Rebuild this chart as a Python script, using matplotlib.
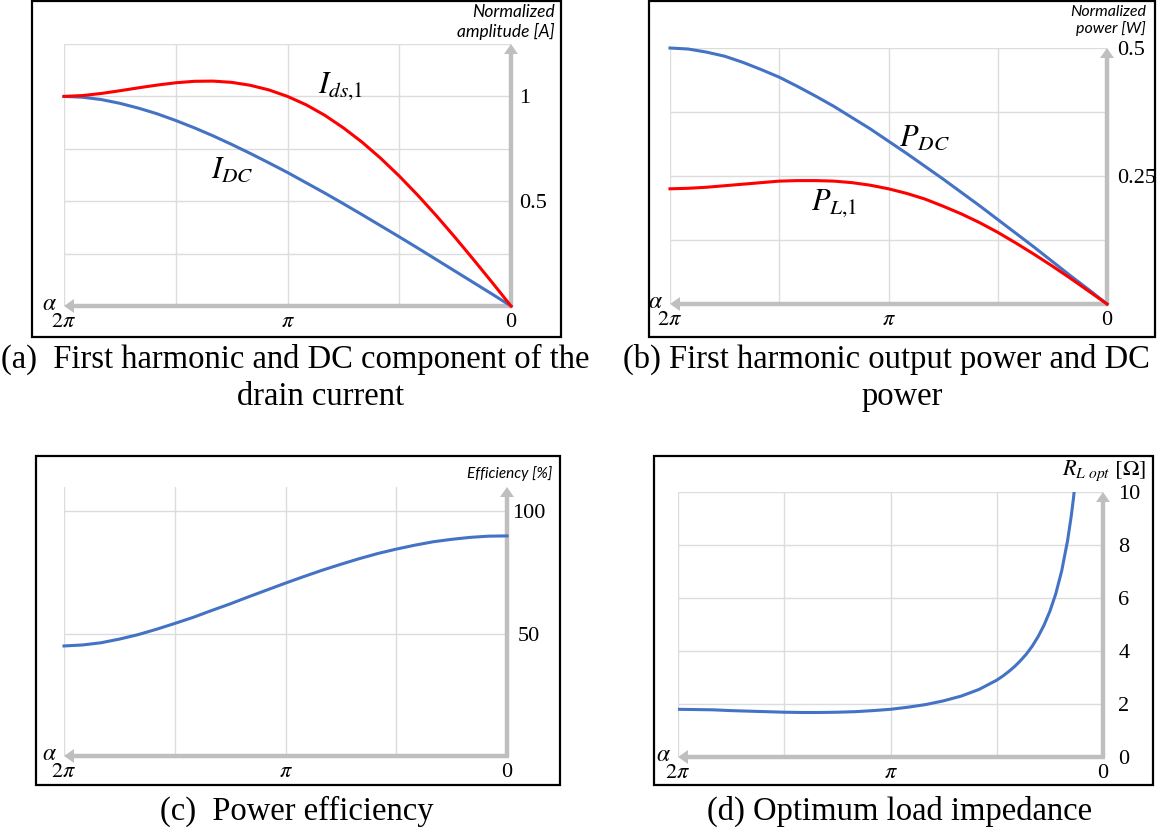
import numpy as np
import matplotlib
matplotlib.use("Agg")
import matplotlib.pyplot as plt
from matplotlib.patches import Rectangle

plt.rcParams["mathtext.fontset"] = "stix"

# conduction angle (deg), read from 2*pi down to 0
alpha_deg = [360, 345, 330, 315, 300, 285, 270, 255, 240, 225, 210, 195, 180,
             165, 150, 135, 120, 105, 90, 75, 60, 45, 30, 15, 0]

# (a) normalized amplitude [A]
i_ds1 = [1.000, 1.004, 1.014, 1.027, 1.041, 1.054, 1.065, 1.072, 1.073, 1.067, 1.053, 1.031, 1.000,
         0.960, 0.910, 0.850, 0.782, 0.705, 0.620, 0.528, 0.430, 0.327, 0.220, 0.111, 0.0]
i_dc = [1.000, 0.996, 0.985, 0.967, 0.944, 0.917, 0.885, 0.850, 0.812, 0.771, 0.728, 0.683, 0.637,
        0.588, 0.539, 0.488, 0.436, 0.383, 0.330, 0.276, 0.221, 0.166, 0.111, 0.056, 0.0]

# (b) normalized power [W]
p_dc = [0.500, 0.498, 0.492, 0.484, 0.472, 0.458, 0.443, 0.425, 0.406, 0.386, 0.364, 0.342, 0.318,
        0.294, 0.269, 0.244, 0.218, 0.192, 0.165, 0.138, 0.111, 0.083, 0.055, 0.028, 0.0]
p_l1 = [0.225, 0.226, 0.228, 0.231, 0.234, 0.237, 0.240, 0.241, 0.241, 0.240, 0.237, 0.232, 0.225,
        0.216, 0.205, 0.191, 0.176, 0.159, 0.140, 0.119, 0.097, 0.074, 0.050, 0.025, 0.0]

# (c) efficiency [%]
eff = [45.0, 45.4, 46.3, 47.8, 49.6, 51.8, 54.2, 56.7, 59.5, 62.2, 65.1, 67.9, 70.7,
       73.4, 76.0, 78.4, 80.7, 82.8, 84.6, 86.2, 87.6, 88.6, 89.4, 89.9, 90.0]

# (d) optimum load impedance [ohm]
alpha_r_deg = [360, 345, 330, 315, 300, 285, 270, 255, 240, 225, 210, 195, 180,
               165, 150, 135, 120, 105, 90, 85, 80, 75, 70, 65, 60, 55, 50, 45,
               40, 35, 30, 27, 25, 24]
r_opt = [1.80, 1.79, 1.78, 1.75, 1.73, 1.71, 1.69, 1.68, 1.68, 1.69, 1.71, 1.75, 1.80,
         1.88, 1.98, 2.12, 2.30, 2.55, 2.90, 3.05, 3.22, 3.41, 3.63, 3.88, 4.18, 4.54, 4.97, 5.50,
         6.16, 7.02, 8.17, 9.06, 9.77, 10.18]

x_labels = [r"$2\pi$", r"$\pi$", "0"]

BLUE = "#4472c4"
RED = "#ff0000"
GRID = "#dcdcdc"
AXIS = "#bfbfbf"
W, H = 1169, 832

fig = plt.figure(figsize=(W / 100, H / 100), dpi=100)


def px_rect(l, t, r, b):
    # pixel box -> figure fraction [left, bottom, width, height]
    return [l / W, 1 - b / H, (r - l) / W, (b - t) / H]


def frame(l, t, r, b):
    x0, y0, w, h = px_rect(l, t, r, b)
    fig.add_artist(Rectangle((x0, y0), w, h, transform=fig.transFigure,
                             fill=False, ec="black", lw=1.6))


def make_panel(rect, ytop, yticks, ylabels, yminor, ypad, yha="left"):
    ax = fig.add_axes(px_rect(*rect))
    ax.set_xlim(2 * np.pi, 0)
    ax.set_ylim(0, ytop)
    ax.set_frame_on(False)
    ax.set_xticks([2 * np.pi, np.pi, 0], x_labels)
    ax.set_xticks([1.5 * np.pi, 0.5 * np.pi], minor=True)
    ax.set_yticks(yticks, ylabels)
    ax.set_yticks(yminor, minor=True)
    ax.yaxis.tick_right()
    ax.tick_params(which="both", length=0)
    ax.tick_params(axis="x", pad=5, labelsize=16, labelfontfamily="Liberation Serif")
    ax.tick_params(axis="y", pad=ypad, labelsize=16, labelfontfamily="Liberation Serif")
    for t in ax.get_yticklabels():
        t.set_horizontalalignment(yha)
    ax.grid(True, which="both", color=GRID, lw=1)
    ax.set_axisbelow(True)

    arrow = dict(arrowstyle="simple,head_length=0.36,head_width=0.5,tail_width=0.16",
                 mutation_scale=20, color=AXIS, lw=0, shrinkA=0, shrinkB=0)
    ax.annotate("", xy=(2 * np.pi, 0), xytext=(-0.03, 0), arrowprops=arrow,
                annotation_clip=False, zorder=3)
    ax.annotate("", xy=(0, ytop), xytext=(0, 0), arrowprops=arrow,
                annotation_clip=False, zorder=3)
    ax.annotate(r"$\alpha$", xy=(2 * np.pi, 0), xytext=(-15, 3), textcoords="offset pixels",
                ha="center", va="center", fontsize=17, annotation_clip=False)
    return ax


# ---- (a) drain current
frame(32, 1, 561, 337)
ax = make_panel((64, 44, 511, 306), 1.25, [0.5, 1.0], ["0.5", "1"], [0.25, 0.75, 1.25], 6)
ax.plot(np.deg2rad(alpha_deg), i_dc, color=BLUE, lw=2.2, zorder=4, clip_on=False)
ax.plot(np.deg2rad(alpha_deg), i_ds1, color=RED, lw=2.2, zorder=4, clip_on=False)
ax.text(2.39, 1.05, r"$I_{ds{,}1}$", fontsize=22, ha="center", va="center")
ax.text(3.92, 0.65, r"$I_{DC}$", fontsize=22, ha="center", va="center")
fig.text(555 / W, 1 - 4 / H, "Normalized\namplitude [A]", ha="right", va="top",
         fontsize=12.5, style="italic", family="Lato", linespacing=1.2)

# ---- (b) power
frame(649, 1, 1155, 337)
ax = make_panel((670, 48, 1107, 304), 0.5, [0.25, 0.5], ["0.25", "0.5"], [0.125, 0.375], 7)
ax.plot(np.deg2rad(alpha_deg), p_dc, color=BLUE, lw=2.2, zorder=4, clip_on=False)
ax.plot(np.deg2rad(alpha_deg), p_l1, color=RED, lw=2.2, zorder=4, clip_on=False)
ax.text(2.63, 0.326, r"$P_{DC}$", fontsize=22, ha="center", va="center")
ax.text(3.93, 0.197, r"$P_{L{,}1}$", fontsize=22, ha="center", va="center")
fig.text(1146 / W, 1 - 5 / H, "Normalized\npower [W]", ha="right", va="top",
         fontsize=11.5, style="italic", family="Lato", linespacing=1.2)

# ---- (c) efficiency
frame(36, 456, 560, 785)
ax = make_panel((64, 487, 507, 756), 110, [50, 100], ["50", "100"], [], 16, yha="center")
ax.plot(np.deg2rad(alpha_deg), eff, color=BLUE, lw=2.2, zorder=4, clip_on=False)
fig.text(552 / W, 1 - 474 / H, "Efficiency [%]", ha="right", va="center",
         fontsize=11, style="italic", family="Lato")

# ---- (d) optimum load
frame(654, 456, 1153, 785)
ax = make_panel((678, 492, 1103, 757), 10, [0, 2, 4, 6, 8, 10],
                ["0", "2", "4", "6", "8", "10"], [], 11)
ax.plot(np.deg2rad(alpha_r_deg), r_opt, color=BLUE, lw=2.2, zorder=4)
fig.text(1146 / W, 1 - 471 / H, r"$R_{L\ opt}\ [\mathit{\Omega}]$", ha="right", va="center",
         fontsize=16)

# ---- captions
cap = dict(ha="center", va="center", fontsize=23.5, family="Liberation Serif")
fig.text(295 / W, 1 - 359 / H, "(a)  First harmonic and DC component of the", **cap)
fig.text(321 / W, 1 - 397 / H, "drain current", **cap)
fig.text(886 / W, 1 - 359 / H, "(b) First harmonic output power and DC", **cap)
fig.text(902 / W, 1 - 397 / H, "power", **cap)
fig.text(297 / W, 1 - 811 / H, "(c)  Power efficiency", **cap)
fig.text(900 / W, 1 - 811 / H, "(d) Optimum load impedance", **cap)

fig.savefig("out.png", dpi=100)
